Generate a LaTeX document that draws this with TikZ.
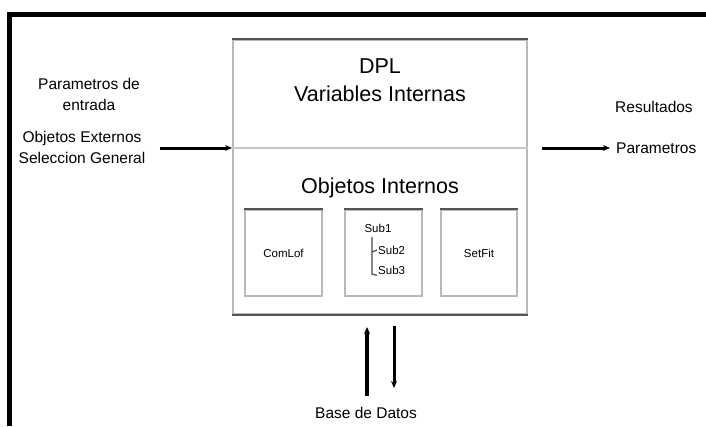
\documentclass[tikz,border=0pt]{standalone}
\usepackage{fontspec}
\setmainfont{Liberation Sans}
\usetikzlibrary{arrows.meta,positioning}
\tikzset{
  mainbox/.style = {draw=gray!55, line width=2pt, minimum width=294pt, minimum height=274pt,
                    inner sep=0pt},
  subbox/.style  = {draw=gray!55, line width=1.5pt, minimum width=77pt, minimum height=86pt,
                    inner sep=0pt},
  big/.style     = {font=\fontsize{21.5}{28}\selectfont, align=center},
  lbl/.style     = {font=\fontsize{15.5}{21}\selectfont, align=center, inner sep=1pt},
  tiny/.style    = {font=\fontsize{11.5}{12}\selectfont, inner sep=1pt},
  vec/.style     = {-{Stealth[length=7pt,width=6pt]}, line width=3pt},
  tree/.style    = {line width=1.2pt, gray!60!black},
}
\begin{document}
\begin{tikzpicture}[x=1pt,y=-1pt]
  \useasboundingbox (0,0) rectangle (706,426);
  % frame
  \draw[line width=5pt] (9.5,426) -- (9.5,14) -- (706,14);
  % main box
  \node[mainbox] (dpl) at (380,177) {};
  \draw[gray!65!black, line width=2.5pt] (dpl.north west) -- (dpl.north east);
  \draw[gray!65!black, line width=2.5pt] (dpl.south west) -- (dpl.south east);
  \draw[gray!45, line width=2pt] (dpl.west |- 0,148) -- (dpl.east |- 0,148);
  \node[big] (vars) at (380,80) {DPL\\Variables Internas};
  \node[big] (objint) at (380,188) {Objetos Internos};
  % inner boxes
  \foreach \x/\name/\w in {283.5/comlof/77, 383.5/subs/77, 479/setfit/76}
  {
    \node[subbox, minimum width=\w pt] (\name) at (\x,253) {};
    \draw[gray!65!black, line width=1.8pt] (\name.north west) -- (\name.north east);
  }
  \node[tiny] at (comlof) {ComLof};
  \node[tiny] at (setfit) {SetFit};
  \node[tiny] (sub1) at (378,228) {Sub1};
  \node[tiny, anchor=west] (sub2) at (377,250) {Sub2};
  \node[tiny, anchor=west] (sub3) at (377,270) {Sub3};
  \draw[tree] (372,237) -- (372,274) -- (sub3.south west);
  \draw[tree] (372,252) -- (sub2.west);
  % inputs
  \node[lbl] (param) at (89,94) {Parametros de\\entrada};
  \node[lbl] (objext) at (82,147) {Objetos Externos\\Seleccion General};
  \coordinate (instart) at (160,148);
  \node[lbl, anchor=west] (res) at (614,107) {Resultados};
  \node[lbl, anchor=west] (pout) at (615,148) {Parametros};
  \draw[vec] (instart) -- (dpl.west |- instart);
  \draw[vec, shorten >=5pt] ([xshift=14pt]dpl.east |- instart) -- (pout.west);
  % data base
  \node[lbl] (bd) at (366,413) {Base de Datos};
  \draw[vec, line width=4pt] (367,396) -- ([yshift=-12pt]dpl.south -| 367,0);
  \draw[vec] ([yshift=-11pt]dpl.south -| 394,0) -- (394,388);
\end{tikzpicture}
\end{document}
